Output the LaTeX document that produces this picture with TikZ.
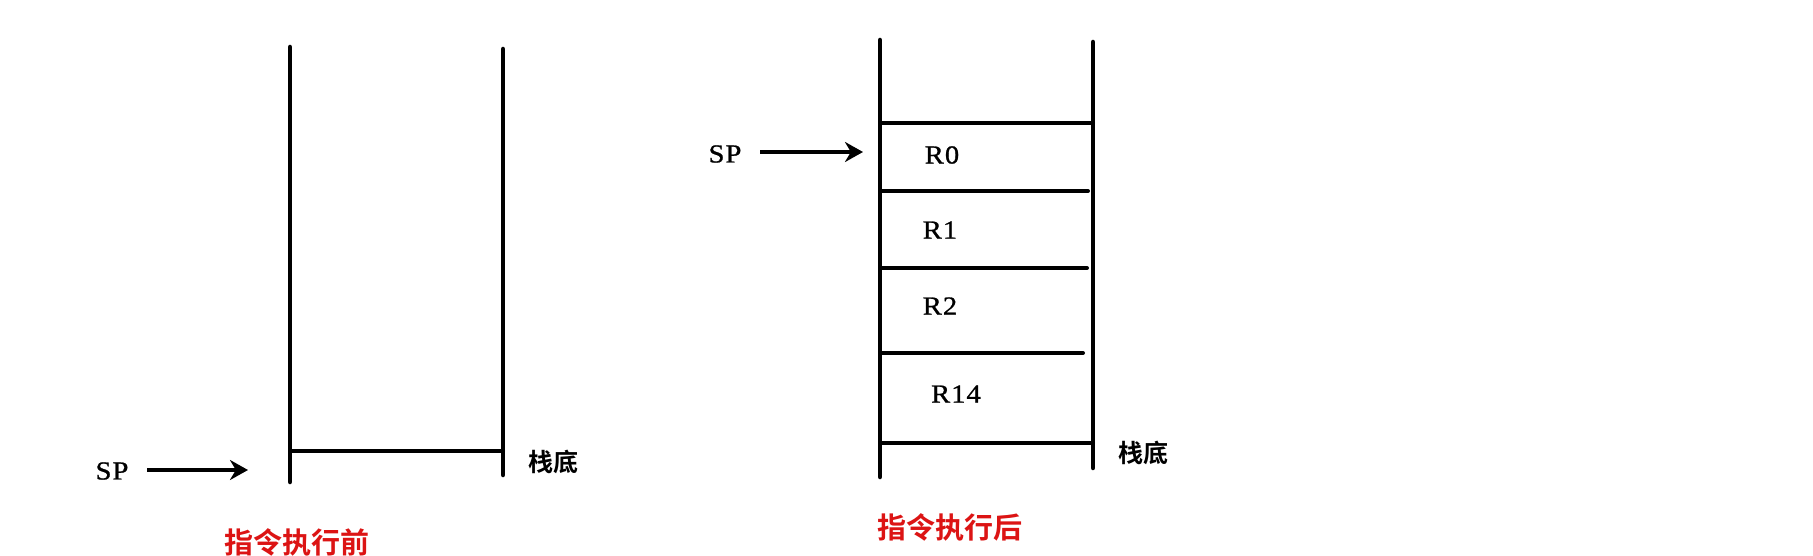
\documentclass[tikz,border=0pt]{standalone}
\usepackage{fontspec}
\setmainfont{Liberation Serif}
\newfontfamily\lblfont{Liberation Serif}[FakeStretch=1.1,LetterSpace=4,FakeBold=1]
\newfontfamily\cjk{Noto Sans CJK SC}[BoldFont={Noto Sans CJK SC Bold}]
\usetikzlibrary{arrows.meta}
\definecolor{redlbl}{RGB}{220,20,20}
\tikzset{
  wall/.style={line width=4.5pt, line cap=round},
  shelf/.style={line width=4pt, line cap=round},
  ptr/.style={line width=4pt, -{Stealth[length=18pt,width=20pt]}},
  lbl/.style={font=\lblfont\fontsize{26}{30}\selectfont, inner sep=0pt},
  cn/.style={font=\cjk\bfseries\fontsize{25}{30}\selectfont, inner sep=0pt},
  title/.style={font=\cjk\bfseries\fontsize{29}{34}\selectfont, text=redlbl, inner sep=0pt}
}
\begin{document}
\begin{tikzpicture}[x=1pt,y=-1pt]
\useasboundingbox[fill=white] (0,0) rectangle (1813,556);
% ---- before ----
\coordinate (aLT) at (290,47);
\coordinate (aLB) at (290,482);
\coordinate (aRT) at (503,49);
\coordinate (aRB) at (503,475);
\coordinate (aBL) at (290,451);
\coordinate (aBR) at (503,451);
\draw[wall] (aLT) -- (aLB);
\draw[wall] (aRT) -- (aRB);
\draw[shelf] (aBL) -- (aBR);
\node[lbl] (sp1) at (112,471) {SP};
\coordinate (sp1s) at (147,470);
\coordinate (sp1tip) at (248,470);
\draw[ptr] (sp1s) -- (sp1tip);
\node[cn] (bot1) at (553,462) {栈底};
\node[title] (t1) at (297,542) {指令执行前};
% ---- after ----
\coordinate (bLT) at (880,40);
\coordinate (bLB) at (880,477);
\coordinate (bRT) at (1093,42);
\coordinate (bRB) at (1093,468);
\draw[wall] (bLT) -- (bLB);
\draw[wall] (bRT) -- (bRB);
\coordinate (h1l) at (880,123);  \coordinate (h1r) at (1093,123);
\coordinate (h2l) at (880,191);  \coordinate (h2r) at (1088,191);
\coordinate (h3l) at (880,268);  \coordinate (h3r) at (1087,268);
\coordinate (h4l) at (880,353);  \coordinate (h4r) at (1083,353);
\coordinate (h5l) at (880,443);  \coordinate (h5r) at (1093,443);
\draw[shelf] (h1l) -- (h1r);
\draw[shelf] (h2l) -- (h2r);
\draw[shelf] (h3l) -- (h3r);
\draw[shelf] (h4l) -- (h4r);
\draw[shelf] (h5l) -- (h5r);
\node[lbl] (r0) at (942,155) {R0};
\node[lbl] (r1) at (940,230) {R1};
\node[lbl] (r2) at (940,306) {R2};
\node[lbl] (r14) at (956,394) {R14};
\node[lbl] (sp2) at (725,154) {SP};
\coordinate (sp2s) at (760,152);
\coordinate (sp2tip) at (863,152);
\draw[ptr] (sp2s) -- (sp2tip);
\node[cn] (bot2) at (1143,453) {栈底};
\node[title] (t2) at (950,527) {指令执行后};
\end{tikzpicture}
\end{document}
